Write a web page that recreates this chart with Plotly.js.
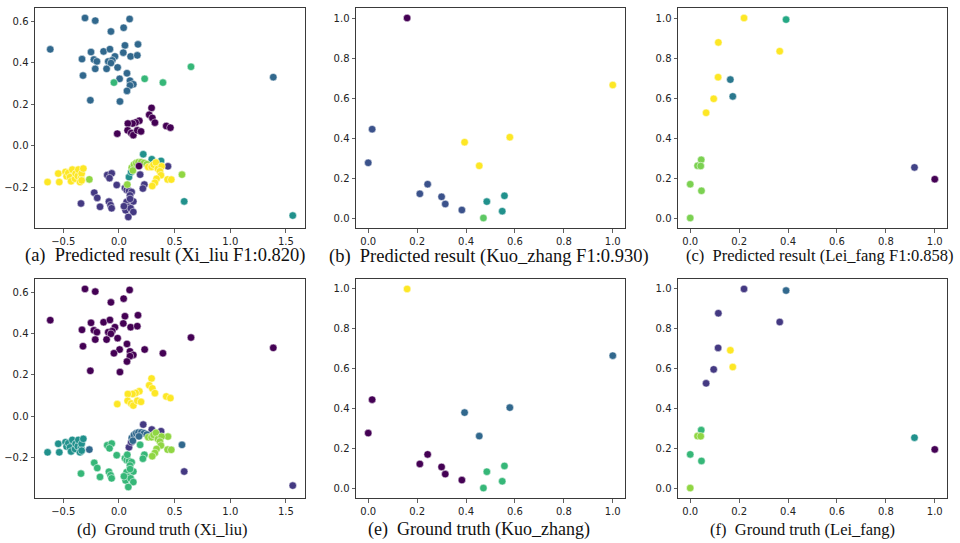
<!DOCTYPE html>
<html>
<head>
<meta charset="utf-8">
<script src="https://cdn.plot.ly/plotly-3.0.1.min.js"></script>
<style>html,body{margin:0;padding:0;background:#fff;}#chart{width:960px;height:543px;}</style>
</head>
<body>
<div id="chart"></div>
<script>
// ---- Xi_liu (panels a / d): shared point positions, predicted and true cluster labels ----
const xiX = [
  -0.305,-0.213,0.096,0.042,-0.072,-0.617,0.054,0.171,-0.251,-0.138,-0.081,-0.036,0.039,0.105,0.165,-0.332,-0.225,-0.198,-0.096,-0.060,-0.072,-0.012,-0.213,-0.111,-0.323,0.072,0.006,0.099,0.129,0.099,0.072,-0.257,0.009,1.386,
  -0.045,0.231,0.395,0.647,
  0.293,0.272,0.300,0.323,0.183,0.150,0.122,0.080,0.078,0.110,0.129,0.165,0.198,-0.015,0.425,0.462,
  -0.641,-0.545,-0.536,-0.480,-0.470,-0.455,-0.440,-0.430,-0.419,-0.395,-0.389,-0.370,-0.365,-0.350,-0.340,-0.335,-0.335,-0.320,
  -0.266,
  -0.105,-0.065,-0.085,-0.020,-0.222,-0.195,-0.341,-0.170,-0.090,-0.075,-0.066,0.054,0.070,0.090,0.114,0.099,0.069,0.129,0.084,0.060,0.105,0.129,0.084,0.045,0.100,0.228,0.215,0.190,
  0.440,
  0.218,0.295,0.378,0.586,1.561,0.090,0.110,
  0.115,0.135,0.155,0.175,0.200,0.225,0.250,0.125,0.566,
  0.075,
  0.180,
  0.263,0.293,0.310,0.332,0.350,0.383,0.368,0.377,0.338,0.323,0.299,0.437,0.470
];
const xiY = [
  0.616,0.603,0.611,0.569,0.551,0.465,0.484,0.489,0.452,0.455,0.466,0.431,0.449,0.431,0.436,0.418,0.416,0.407,0.407,0.412,0.399,0.378,0.371,0.371,0.339,0.350,0.323,0.314,0.297,0.291,0.265,0.220,0.214,0.331,
  0.305,0.323,0.305,0.381,
  0.183,0.150,0.135,0.112,0.121,0.113,0.108,0.108,0.075,0.062,0.052,0.075,0.070,0.059,0.096,0.088,
  -0.174,-0.133,-0.174,-0.125,-0.146,-0.130,-0.150,-0.170,-0.114,-0.158,-0.133,-0.145,-0.114,-0.174,-0.150,-0.133,-0.166,-0.109,
  -0.161,
  -0.140,-0.132,-0.155,-0.188,-0.225,-0.250,-0.277,-0.293,-0.268,-0.285,-0.300,-0.203,-0.212,-0.216,-0.222,-0.238,-0.270,-0.267,-0.294,-0.310,-0.300,-0.318,-0.342,-0.290,-0.255,-0.186,-0.205,-0.138,
  -0.098,
  -0.040,-0.064,-0.072,-0.267,-0.335,-0.150,-0.125,
  -0.105,-0.090,-0.082,-0.078,-0.078,-0.082,-0.088,-0.118,-0.138,
  -0.186,
  -0.097,
  -0.101,-0.101,-0.090,-0.080,-0.110,-0.098,-0.122,-0.141,-0.158,-0.177,-0.193,-0.161,-0.162
];
const xiPred = [
  2,2,2,2,2,2,2,2,2,2,2,2,2,2,2,2,2,2,2,2,2,2,2,2,2,2,2,2,2,2,2,2,2,2,
  4,4,4,4,
  0,0,0,0,0,0,0,0,0,0,0,0,0,0,0,0,
  6,6,6,6,6,6,6,6,6,6,6,6,6,6,6,6,6,6,
  5,
  1,1,1,1,1,1,1,1,1,1,1,1,1,1,1,1,1,1,1,1,1,1,1,1,1,1,1,1,
  1,
  3,3,3,3,3,3,3,
  5,5,5,5,5,5,5,5,5,
  5,
  0,
  6,6,6,6,6,6,6,6,6,6,6,6,6
];
const xiTrue = [
  0,0,0,0,0,0,0,0,0,0,0,0,0,0,0,0,0,0,0,0,0,0,0,0,0,0,0,0,0,0,0,0,0,0,
  0,0,0,0,
  6,6,6,6,6,6,6,6,6,6,6,6,6,6,6,6,
  3,3,3,3,3,3,3,3,3,3,3,3,3,3,3,3,3,3,
  2,
  4,4,4,4,4,4,4,4,4,4,4,4,4,4,4,4,4,4,4,4,4,4,4,4,4,4,4,4,
  5,
  1,1,1,1,1,1,1,
  2,2,2,2,2,2,2,2,2,
  4,
  2,
  5,5,5,5,5,5,5,5,5,5,5,5,5
];

// ---- Kuo_zhang (panels b / e) ----
const kuoX = [0.159,1.0,0.016,0.0,0.394,0.579,0.454,0.243,0.211,0.300,0.315,0.383,0.485,0.557,0.548,0.471];
const kuoY = [1.0,0.665,0.444,0.276,0.379,0.404,0.261,0.169,0.121,0.106,0.070,0.040,0.082,0.111,0.034,0.0];
const kuoPred = [0,4,1,1,4,4,4,1,1,1,1,1,2,2,2,3];
const kuoTrue = [3,1,0,0,1,1,1,0,0,0,0,0,2,2,2,2];

// ---- Lei_fang (panels c / f) ----
const leiX = [0.220,0.392,0.115,0.366,0.114,0.164,0.174,0.096,0.065,0.045,0.030,0.043,0.0,0.046,0.0,0.917,1.0];
const leiY = [1.0,0.992,0.878,0.834,0.704,0.692,0.608,0.596,0.526,0.291,0.261,0.260,0.169,0.136,0.0,0.253,0.194];
const leiPred = [5,3,5,5,5,2,2,5,5,4,4,4,4,4,4,1,0];
const leiTrue = [1,2,1,1,1,6,6,1,1,4,5,5,4,4,5,3,0];

// ---- captions ----
const captions = [
  "(a)  Predicted result (Xi_liu F1:0.820)",
  "(b)  Predicted result (Kuo_zhang F1:0.930)",
  "(c)  Predicted result (Lei_fang F1:0.858)",
  "(d)  Ground truth (Xi_liu)",
  "(e)  Ground truth (Kuo_zhang)",
  "(f)  Ground truth (Lei_fang)"
];

const xiTicks = [-0.5,0,0.5,1.0,1.5];
const xiYTicks = [-0.2,0,0.2,0.4,0.6];
const unitTicks = [0,0.2,0.4,0.6,0.8,1.0];

function lab(v){ return (v<0?'\u2212':'') + Math.abs(v).toFixed(1); }

const W = 960, H = 543;
const cols = [[35,305],[356,625],[678,947]];
const rows = [[8,228],[279,498]];

function trace(x, y, c, idx){
  const k = idx===1 ? '' : String(idx);
  return {
    type:'scatter', mode:'markers', x:x, y:y,
    xaxis:'x'+k, yaxis:'y'+k,
    marker:{color:c, colorscale:'Viridis', cmin:0, cmax:Math.max.apply(null,c),
            size:7.5, line:{color:'#ffffff', width:0.5}, opacity:1},
    showlegend:false, hoverinfo:'x+y'
  };
}

const data = [
  trace(xiX, xiY, xiPred, 1),
  trace(kuoX, kuoY, kuoPred, 2),
  trace(leiX, leiY, leiPred, 3),
  trace(xiX, xiY, xiTrue, 4),
  trace(kuoX, kuoY, kuoTrue, 5),
  trace(leiX, leiY, leiTrue, 6)
];

const axBase = {
  showgrid:false, zeroline:false, showline:true, mirror:true,
  linecolor:'#3a3a3a', linewidth:1, ticks:'outside', ticklen:3.5, tickwidth:0.8, tickcolor:'#3a3a3a',
  tickfont:{family:'DejaVu Sans', size:10, color:'#222'}, fixedrange:true, tickmode:'array'
};

const layout = {
  width:W, height:H, margin:{l:0,r:0,t:0,b:0},
  paper_bgcolor:'#fff', plot_bgcolor:'#fff', showlegend:false,
  annotations:[]
};

// caption centre [x, y] in pixels and font size (each sub-figure scaled slightly differently)
const capPos = [[165,255,18.5],[489,256.5,18.5],[820,255,16.5],[162,529,16.5],[479,529,18],[802,529,16.5]];

for (let i=0;i<6;i++){
  const r = Math.floor(i/3), c = i%3;
  const k = i===0 ? '' : String(i+1);
  const isXi = (c===0);
  const xa = Object.assign({}, axBase, {
    domain:[cols[c][0]/W, cols[c][1]/W],
    anchor:'y'+k,
    range: isXi ? [-0.754,1.671] : [-0.05,1.05],
    tickvals: isXi ? xiTicks : unitTicks,
    ticktext: (isXi ? xiTicks : unitTicks).map(lab)
  });
  const ya = Object.assign({}, axBase, {
    domain:[1-rows[r][1]/H, 1-rows[r][0]/H],
    anchor:'x'+k,
    range: isXi ? [-0.395,0.664] : [-0.05,1.05],
    tickvals: isXi ? xiYTicks : unitTicks,
    ticktext: (isXi ? xiYTicks : unitTicks).map(lab)
  });
  layout['xaxis'+k] = xa;
  layout['yaxis'+k] = ya;
  layout.annotations.push({
    text:captions[i], xref:'paper', yref:'paper',
    x:capPos[i][0]/W, y:1-capPos[i][1]/H, xanchor:'center', yanchor:'middle',
    showarrow:false, font:{family:'Liberation Serif, Times New Roman, serif', size:capPos[i][2], color:'#111'}
  });
}

Plotly.newPlot('chart', data, layout, {staticPlot:true, displayModeBar:false});
</script>
</body>
</html>
